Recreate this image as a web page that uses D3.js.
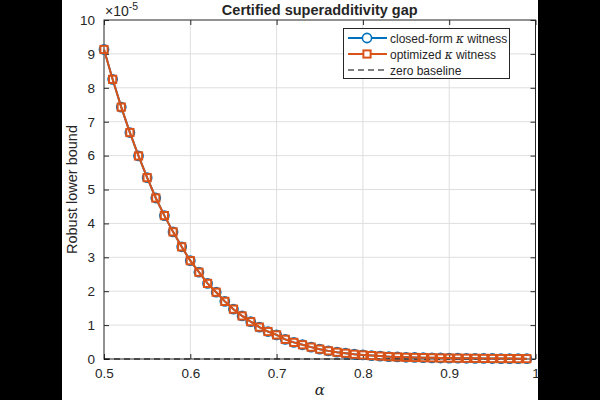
<!DOCTYPE html>
<html><head><meta charset="utf-8">
<script src="https://cdn.jsdelivr.net/npm/d3@7/dist/d3.min.js"></script>
<style>
body{margin:0;background:#000;}
svg{display:block;}
text{font-family:"Liberation Sans",Arial,sans-serif;fill:#262626;}
</style></head><body>
<script>
// Data (values in units of 1e-5)
const alpha = [0.50,0.51,0.52,0.53,0.54,0.55,0.56,0.57,0.58,0.59,
               0.60,0.61,0.62,0.63,0.64,0.65,0.66,0.67,0.68,0.69,
               0.70,0.71,0.72,0.73,0.74,0.75,0.76,0.77,0.78,0.79,
               0.80,0.81,0.82,0.83,0.84,0.85,0.86,0.87,0.88,0.89,
               0.90,0.91,0.92,0.93,0.94,0.95,0.96,0.97,0.98,0.99];
const closedForm = [9.13,8.25,7.43,6.68,5.99,5.35,4.75,4.23,3.75,3.31,
                    2.90,2.56,2.23,1.97,1.70,1.47,1.27,1.10,0.94,0.81,
                    0.71,0.58,0.49,0.42,0.35,0.29,0.24,0.20,0.17,0.14,
                    0.12,0.10,0.085,0.07,0.06,0.05,0.045,0.04,0.035,0.03,
                    0.027,0.024,0.021,0.019,0.017,0.015,0.013,0.012,0.011,0.01];
const optimized = [9.13,8.25,7.43,6.68,5.99,5.35,4.75,4.23,3.75,3.31,
                   2.90,2.56,2.23,1.97,1.70,1.47,1.27,1.10,0.94,0.81,
                   0.71,0.58,0.49,0.42,0.35,0.29,0.24,0.20,0.17,0.14,
                   0.12,0.10,0.085,0.07,0.06,0.05,0.045,0.04,0.035,0.03,
                   0.027,0.024,0.021,0.019,0.017,0.015,0.013,0.012,0.011,0.01];
const baseline = [0, 0];
const xTicks = [0.5,0.6,0.7,0.8,0.9,1];
const yTicks = [0,1,2,3,4,5,6,7,8,9,10];
const yExponent = -5;
const legendLabels = ["closed-form ", "optimized ", "zero baseline"];

const W=600,H=400;
const svg=d3.select("body").append("svg").attr("width",W).attr("height",H);
svg.append("rect").attr("x",62).attr("y",0).attr("width",476).attr("height",400).attr("fill","#fff");

const L=104,R=535.5,T=20,B=359;
const x=d3.scaleLinear().domain([0.5,1]).range([L,R]);
const y=d3.scaleLinear().domain([0,10]).range([B,T]);
const axisColor="#262626";

// grid
const g=svg.append("g");
g.selectAll(".gx").data(xTicks.slice(1,-1)).join("line")
 .attr("x1",d=>x(d)).attr("x2",d=>x(d)).attr("y1",T).attr("y2",B)
 .attr("stroke","#dfdfdf").attr("stroke-width",1);
g.selectAll(".gy").data(yTicks.slice(1,-1)).join("line")
 .attr("y1",d=>y(d)).attr("y2",d=>y(d)).attr("x1",L).attr("x2",R)
 .attr("stroke","#dfdfdf").attr("stroke-width",1);

// axes
function styleAxis(sel){
  sel.select(".domain").remove();
  sel.selectAll(".tick line").attr("stroke",axisColor);
  sel.selectAll(".tick text").attr("fill",axisColor).style("font-size","13.5px");
}
const fmt=d=>d===1?"1":d3.format(".1f")(d);
svg.append("g").attr("transform",`translate(0,${B})`)
 .call(d3.axisBottom(x).tickValues(xTicks).tickFormat(fmt).tickSizeInner(-5).tickSizeOuter(0).tickPadding(9))
 .call(styleAxis);
svg.append("g").attr("transform",`translate(0,${T})`)
 .call(d3.axisTop(x).tickValues(xTicks).tickFormat("").tickSizeInner(-5).tickSizeOuter(0))
 .call(styleAxis);
svg.append("g").attr("transform",`translate(${L},0)`)
 .call(d3.axisLeft(y).tickValues(yTicks).tickFormat(d3.format("d")).tickSizeInner(-5).tickSizeOuter(0).tickPadding(9))
 .call(styleAxis);
svg.append("g").attr("transform",`translate(${R},0)`)
 .call(d3.axisRight(y).tickValues(yTicks).tickFormat("").tickSizeInner(-5).tickSizeOuter(0))
 .call(styleAxis);
svg.append("rect").attr("x",L).attr("y",T).attr("width",R-L).attr("height",B-T)
 .attr("fill","none").attr("stroke",axisColor).attr("stroke-width",1);

// exponent label
const ex=svg.append("text").attr("x",L+1).attr("y",T-4).style("font-size","14px").attr("fill",axisColor);
ex.append("tspan").text("×10");
ex.append("tspan").attr("dy",-6).style("font-size","10.5px").text(String(yExponent));

const blue="#0072BD",orange="#D95319";
const line=d3.line().x((d,i)=>x(alpha[i])).y(d=>y(d));

// baseline
svg.append("line").attr("x1",x(alpha[0])).attr("x2",x(alpha[alpha.length-1]))
 .attr("y1",y(baseline[0])).attr("y2",y(baseline[1]))
 .attr("stroke","#000").attr("stroke-width",1.2).attr("stroke-dasharray","6,4");

// series 1
svg.append("path").datum(closedForm).attr("d",line).attr("fill","none").attr("stroke",blue).attr("stroke-width",2);
svg.selectAll(".c").data(closedForm).join("circle")
 .attr("cx",(d,i)=>x(alpha[i])).attr("cy",d=>y(d)).attr("r",4.6)
 .attr("fill","none").attr("stroke",blue).attr("stroke-width",1.6);
// series 2
svg.append("path").datum(optimized).attr("d",line).attr("fill","none").attr("stroke",orange).attr("stroke-width",2);
svg.selectAll(".s").data(optimized).join("rect")
 .attr("x",(d,i)=>x(alpha[i])-3.6).attr("y",d=>y(d)-3.6).attr("width",7.2).attr("height",7.2)
 .attr("fill","none").attr("stroke",orange).attr("stroke-width",2);

// title & labels
svg.append("text").attr("x",(L+R)/2).attr("y",15).attr("text-anchor","middle")
 .style("font-size","14.5px").style("font-weight","bold").attr("fill","#000").text("Certified superadditivity gap");
svg.append("text").attr("transform",`translate(77,${(T+B)/2}) rotate(-90)`).attr("text-anchor","middle")
 .style("font-size","14.5px").attr("fill",axisColor).text("Robust lower bound");
svg.append("text").attr("x",(L+R)/2).attr("y",395).attr("text-anchor","middle")
 .style("font-family","'DejaVu Serif','Liberation Serif',serif").style("font-style","italic").style("font-size","15px")
 .attr("fill",axisColor).text("α");

// legend
const lg=svg.append("g");
lg.append("rect").attr("x",343.5).attr("y",28.5).attr("width",166).attr("height",50)
 .attr("fill","#fff").attr("stroke",axisColor).attr("stroke-width",1);
const rows=[38,54,70];
const lx1=348,lx2=387,lm=367;
lg.append("line").attr("x1",lx1).attr("x2",lx2).attr("y1",rows[0]).attr("y2",rows[0]).attr("stroke",blue).attr("stroke-width",2);
lg.append("circle").attr("cx",lm).attr("cy",rows[0]).attr("r",4.6).attr("fill","#fff").attr("stroke",blue).attr("stroke-width",1.6);
lg.append("line").attr("x1",lx1).attr("x2",lx2).attr("y1",rows[1]).attr("y2",rows[1]).attr("stroke",orange).attr("stroke-width",2);
lg.append("rect").attr("x",lm-3.6).attr("y",rows[1]-3.6).attr("width",7.2).attr("height",7.2).attr("fill","#fff").attr("stroke",orange).attr("stroke-width",2);
lg.append("line").attr("x1",lx1).attr("x2",lx2).attr("y1",rows[2]).attr("y2",rows[2]).attr("stroke","#000").attr("stroke-width",1.2).attr("stroke-dasharray","6,4");
legendLabels.forEach((lab,i)=>{
  const t=lg.append("text").attr("x",390).attr("y",rows[i]+4.5).style("font-size","12px").attr("fill","#000");
  t.append("tspan").text(lab);
  if(i<2){
    t.append("tspan").style("font-family","'DejaVu Serif','Liberation Serif',serif").style("font-style","italic").text("κ");
    t.append("tspan").text(" witness");
  }
});
</script>
</body></html>
